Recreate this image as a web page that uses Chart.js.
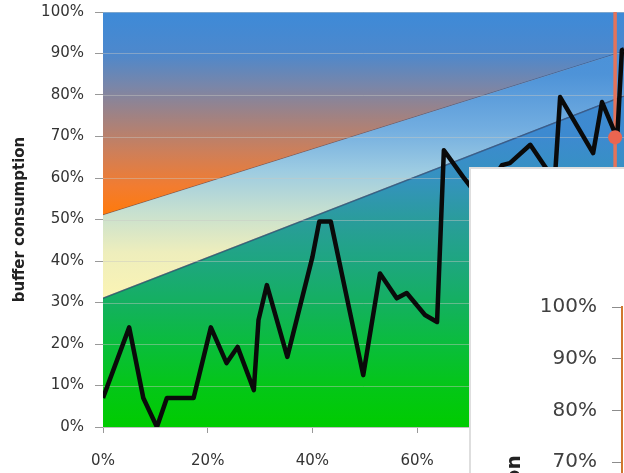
<!DOCTYPE html>
<html>
<head>
<meta charset="utf-8">
<script src="https://cdn.jsdelivr.net/npm/chart.js@4.4.1/dist/chart.umd.min.js"></script>
<style>
  html, body { margin: 0; padding: 0; background: #fff; overflow: hidden; }
  #wrap { position: relative; width: 624px; height: 473px; }
  #panel {
    position: absolute; left: 469px; top: 167px; width: 155px; height: 306px;
    background: #fff; border-left: 2px solid #dedede; border-top: 2px solid #dedede;
    box-sizing: border-box; overflow: hidden;
  }
  #zoomChart { position: absolute; left: -2px; top: -2px; }
</style>
</head>
<body>
<div id="wrap">
  <canvas id="feverChart" width="624" height="473"></canvas>
  <div id="panel"><canvas id="zoomChart" width="400" height="720"></canvas></div>
</div>
<script>
// project progress (%) vs buffer consumption (%)
const progress = [0, 5, 7.7, 10.3, 12.2, 17.3, 20.6, 23.6, 25.7, 28.8, 29.7, 31.3, 35.2, 40, 41.3, 43.5,
  49.7, 52.9, 56.1, 58, 61.5, 63.8, 65.1, 68.8, 72, 76.2, 77.7, 81.6, 84.6, 86.2, 87.3, 93.6, 95.3, 98.2, 99.1, 99.5];
const consumption = [7, 24, 7, 0, 7, 7, 24, 15.4, 19.3, 8.9, 25.8, 34.2, 16.9, 41, 49.5, 49.5,
  12.5, 37, 31, 32.3, 27, 25.3, 66.7, 60.2, 55, 63.1, 63.6, 68, 62.4, 58, 79.5, 66, 78.3, 69.6, 90.8, 91];

// zone boundaries
const zoneX = [0, 100];
const redFrom = [51, 90.7];
const greenTo = [31, 80];

// today marker
const todayX = 97.8;
const todayY = 69.8;

const yTicks = [0, 10, 20, 30, 40, 50, 60, 70, 80, 90, 100];
const xTicks = [0, 20, 40, 60, 80];

const pts = (xs, ys) => xs.map((x, i) => ({ x: x, y: ys[i] }));

function zoneFill(stops) {
  return function (context) {
    const chart = context.chart;
    const area = chart.chartArea;
    if (!area) return null;
    const g = chart.ctx.createLinearGradient(0, area.bottom, 0, area.top);
    stops.forEach(s => g.addColorStop(s[0] / 100, s[1]));
    return g;
  };
}

const redStops = [[51, '#ff7a0a'], [58, '#f27c30'], [66, '#cf7f58'], [75, '#a08283'], [82, '#7a86a8'], [90, '#4d88cc'], [100, '#3d8ad8']];
const yellowStops = [[31, '#fbf4b4'], [42, '#eeeebc'], [52, '#c6e0d0'], [62, '#9ccbe2'], [72, '#72ade0'], [85, '#4e93d8'], [100, '#4690da']];
const greenStops = [[0, '#00cc00'], [10, '#04c618'], [20, '#0abd3c'], [30, '#14b060'], [40, '#1ea680'], [50, '#2a9c9c'], [60, '#3592c0'], [70, '#3d8ad0'], [100, '#418bd6']];

const boundaryColor = 'rgba(40,60,100,0.55)';

// no extra label overflow padding: the plot area is set by hand
function noPad(s) { s.paddingLeft = 0; s.paddingRight = 0; s.paddingTop = 0; s.paddingBottom = 0; }

// horizontal grid lines on top of the zone fills, under the consumption line
const gridOverZones = {
  id: 'gridOverZones',
  afterDatasetDraw(chart, args) {
    if (args.index !== 2) return;
    const ctx = chart.ctx;
    const a = chart.chartArea;
    const y = chart.scales.y;
    ctx.save();
    ctx.strokeStyle = 'rgba(200,200,195,0.45)';
    ctx.lineWidth = 1;
    y.ticks.forEach(t => {
      const py = Math.round(y.getPixelForValue(t.value)) + 0.5;
      ctx.beginPath();
      ctx.moveTo(a.left, py);
      ctx.lineTo(a.right, py);
      ctx.stroke();
    });
    ctx.restore();
  }
};

Chart.defaults.font.family = "'DejaVu Sans', sans-serif";
Chart.defaults.animation = false;

const feverChart = new Chart(document.getElementById('feverChart'), {
  type: 'line',
  data: {
    datasets: [
      { data: pts(zoneX, redFrom), borderColor: boundaryColor, borderWidth: 1.5, pointRadius: 0, fill: 'end', backgroundColor: zoneFill(redStops), order: 5 },
      { data: pts(zoneX, greenTo), borderColor: boundaryColor, borderWidth: 1.5, pointRadius: 0, fill: '-1', backgroundColor: zoneFill(yellowStops), order: 4 },
      { data: pts(zoneX, greenTo), borderColor: boundaryColor, borderWidth: 1.5, pointRadius: 0, fill: 'start', backgroundColor: zoneFill(greenStops), order: 3 },
      { data: [{ x: todayX, y: 0 }, { x: todayX, y: 100 }], borderColor: '#e4735a', borderWidth: 3.5, pointRadius: 0, fill: false, order: 2 },
      { data: pts(progress, consumption), borderColor: '#0a0a0a', borderWidth: 4.5, pointRadius: 0, fill: false, tension: 0, borderJoinStyle: 'round', order: 1 },
      { data: [{ x: todayX, y: todayY }], pointRadius: 7, pointBackgroundColor: '#ea6550', pointBorderWidth: 0, showLine: false, order: 0 }
    ]
  },
  options: {
    responsive: false,
    devicePixelRatio: 1,
    layout: { autoPadding: false, padding: { top: 12, left: 0, right: 0, bottom: 0 } },
    plugins: { legend: { display: false }, tooltip: { enabled: false } },
    scales: {
      x: {
        type: 'linear', min: 0, max: 99.5,
        afterBuildTicks: s => { s.ticks = xTicks.map(v => ({ value: v })); },
        afterFit: s => { s.height = 46; noPad(s); },
        ticks: { callback: v => v + '%', font: { size: 15 }, color: '#333', padding: 19, maxRotation: 0 },
        grid: { drawOnChartArea: false, tickLength: 6, tickColor: '#999' },
        border: { color: '#bbb' }
      },
      y: {
        type: 'linear', min: 0, max: 100,
        afterBuildTicks: s => { s.ticks = yTicks.map(v => ({ value: v })); },
        afterFit: s => { s.width = 103; noPad(s); },
        ticks: { callback: v => v + '%', font: { size: 15 }, color: '#333', padding: 11 },
        grid: { drawOnChartArea: false, tickLength: 8, tickColor: '#999' },
        border: { color: '#bbb' },
        title: { display: true, text: 'buffer consumption', font: { size: 15, weight: 'bold' }, color: '#222', padding: { top: 11, bottom: 0 } }
      }
    }
  },
  plugins: [gridOverZones]
});

const zoomChart = new Chart(document.getElementById('zoomChart'), {
  type: 'line',
  data: {
    datasets: [
      { data: pts(progress, consumption), borderColor: '#0a0a0a', borderWidth: 4, pointRadius: 0, fill: false }
    ]
  },
  options: {
    responsive: false,
    devicePixelRatio: 1,
    layout: { autoPadding: false, padding: { top: 140, left: 0, right: 0, bottom: 63 } },
    plugins: { legend: { display: false }, tooltip: { enabled: false } },
    scales: {
      x: { type: 'linear', min: 0, max: 99.5, display: false },
      y: {
        type: 'linear', min: 0, max: 100,
        afterBuildTicks: s => { s.ticks = yTicks.map(v => ({ value: v })); },
        afterFit: s => { s.width = 153; noPad(s); },
        ticks: { callback: v => v + '%', font: { size: 20 }, color: '#404040', padding: 15 },
        grid: { drawOnChartArea: false, tickLength: 10, tickColor: '#8c8c8c' },
        border: { color: '#d0782f', width: 2 },
        title: { display: true, text: 'buffer consumption', font: { size: 20, weight: 'bold' }, color: '#222', padding: { top: 34, bottom: 0 } }
      }
    }
  }
});
</script>
</body>
</html>
